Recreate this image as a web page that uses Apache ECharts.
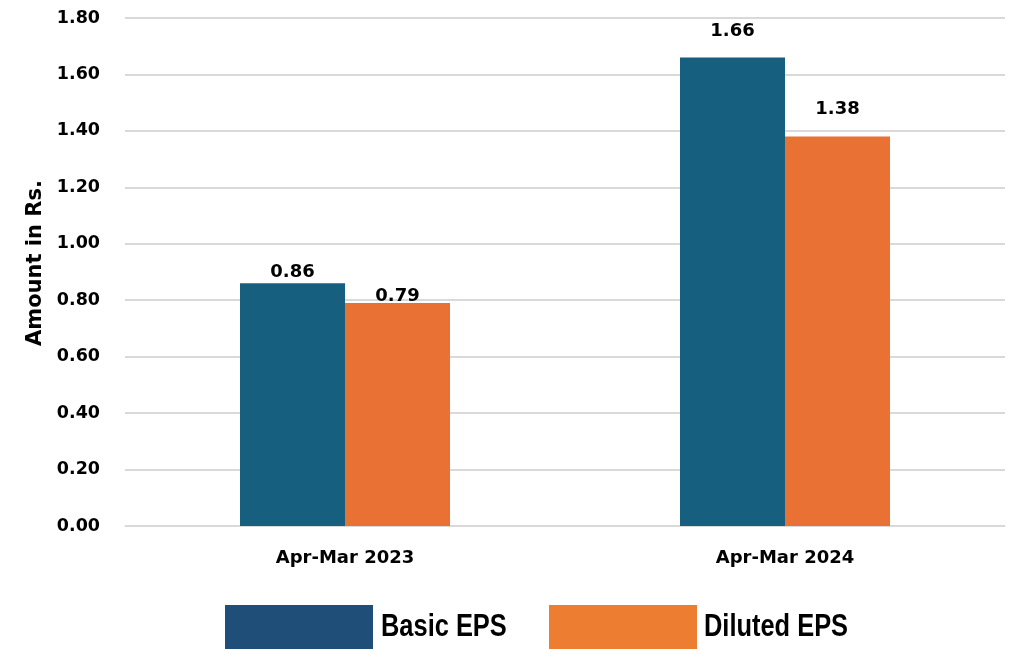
<!DOCTYPE html>
<html><head><meta charset="utf-8">
<script src="https://cdn.jsdelivr.net/npm/echarts@6/dist/echarts.min.js"></script>
<style>html,body{margin:0;padding:0;background:#fff}#c{width:1015px;height:649px}</style>
</head><body><div id="c"></div>
<script>
const categories = ['Apr-Mar 2023', 'Apr-Mar 2024'];
const seriesNames = ['Basic EPS', 'Diluted EPS'];
const basicEPS = [0.86, 1.66];
const dilutedEPS = [0.79, 1.38];
const yTicks = ['0.00','0.20','0.40','0.60','0.80','1.00','1.20','1.40','1.60','1.80'];

const FONT = 'DejaVu Sans, Liberation Sans, sans-serif';
const chart = echarts.init(document.getElementById('c'));
const labelBase = {show: true, position: 'top', color: '#000', fontFamily: FONT, fontWeight: 'bold', fontSize: 18, formatter: p => p.value.toFixed(2)};
const basicDist = [2, 17];
const dilutedDist = [-2, 18];
const mk = (vals, dist) => vals.map((v, i) => ({value: v, label: {distance: dist[i]}}));

const legendFont = 'bold 31px "Liberation Sans", Arial, sans-serif';
chart.setOption({
  animation: false,
  grid: {left: 125, right: 10, top: 18, bottom: 123},
  xAxis: {
    type: 'category', data: categories,
    axisLine: {lineStyle: {color: '#D9D9D9'}}, axisTick: {show: false},
    axisLabel: {color: '#000', fontFamily: FONT, fontWeight: 'bold', fontSize: 18, margin: 23}
  },
  yAxis: {
    type: 'value', min: 0, max: 1.8, interval: 0.2,
    name: 'Amount in Rs.', nameLocation: 'middle', nameGap: 72, nameRotate: 90,
    nameTextStyle: {color: '#000', fontFamily: FONT, fontWeight: 'bold', fontSize: 21, padding: [0, 0, 0, 18]},
    axisLine: {show: false}, axisTick: {show: false},
    splitLine: {lineStyle: {color: '#D9D9D9', width: 2}},
    axisLabel: {color: '#000', fontFamily: FONT, fontWeight: 'bold', fontSize: 17.5, margin: 25,
      formatter: v => yTicks[Math.round(v / 0.2)]}
  },
  series: [
    {name: seriesNames[0], type: 'bar', data: mk(basicEPS, basicDist), barWidth: 105, barGap: '0%', itemStyle: {color: '#175F7F'}, label: labelBase},
    {name: seriesNames[1], type: 'bar', data: mk(dilutedEPS, dilutedDist), barWidth: 105, itemStyle: {color: '#E87133'}, label: labelBase}
  ],
  graphic: [
    {type: 'rect', shape: {x: 225, y: 605, width: 148, height: 50}, style: {fill: '#1F4E79'}},
    {type: 'text', x: 381, y: 627, scaleX: 0.82, style: {text: seriesNames[0], font: legendFont, fill: '#000', verticalAlign: 'middle', align: 'left'}},
    {type: 'rect', shape: {x: 549, y: 605, width: 148, height: 50}, style: {fill: '#ED7D31'}},
    {type: 'text', x: 704, y: 627, scaleX: 0.82, style: {text: seriesNames[1], font: legendFont, fill: '#000', verticalAlign: 'middle', align: 'left'}}
  ]
});
</script></body></html>
